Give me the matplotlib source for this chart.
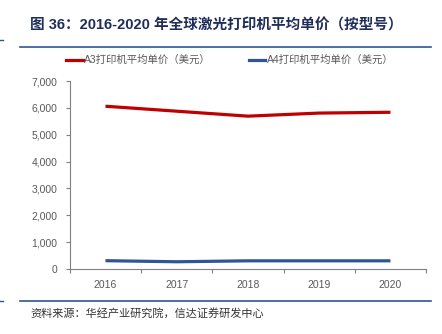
import matplotlib
matplotlib.use("Agg")
import matplotlib.pyplot as plt
from matplotlib.lines import Line2D

plt.rcParams['font.family'] = ['Liberation Sans', 'Noto Sans CJK SC', 'DejaVu Sans']

years = ['2016', '2017', '2018', '2019', '2020']
a3_price = [6065, 5880, 5695, 5810, 5840]
a4_price = [305, 265, 300, 300, 300]
y_ticks = [0, 1000, 2000, 3000, 4000, 5000, 6000, 7000]

title = '图 36：2016-2020 年全球激光打印机平均单价（按型号）'
a3_label = 'A3打印机平均单价（美元）'
a4_label = 'A4打印机平均单价（美元）'
source = '资料来源：华经产业研究院，信达证券研发中心'

fig = plt.figure(figsize=(4.42, 3.34), dpi=100)
ax = fig.add_axes([0.158, 0.195, 0.806, 0.562])

x = list(range(len(years)))
ax.plot(x, a3_price, color='#c00000', lw=2.3, solid_capstyle='butt')
ax.plot(x, a4_price, color='#2f5597', lw=2.3, solid_capstyle='butt')

ax.set_xlim(-0.5, len(years) - 0.5)
ax.set_ylim(0, 7000)
ax.set_yticks(y_ticks)
ax.set_yticklabels([f'{v:,}' for v in y_ticks])
ax.set_xticks([i - 0.5 for i in range(len(years) + 1)])
ax.set_xticklabels([])
ax.set_xticks(x, minor=True)
ax.set_xticklabels(years, minor=True)
ax.tick_params(axis='x', which='minor', length=0, pad=8)
ax.tick_params(axis='x', which='major', length=3, color='#808080')
ax.tick_params(axis='y', length=3, color='#808080', pad=6)
ax.tick_params(labelsize=7.5, labelcolor='#595959')
for lab in ax.get_xticklabels(minor=True):
    lab.set_color('#595959')
    lab.set_fontsize(7.5)

for s in ['top', 'right']:
    ax.spines[s].set_visible(False)
ax.spines['left'].set_color('#808080')
ax.spines['bottom'].set_color('#808080')

# legend
handles = [Line2D([], [], color='#c00000', lw=2.3),
           Line2D([], [], color='#2f5597', lw=2.3)]
leg = fig.legend(handles, [a3_label, a4_label], loc='center', ncol=2,
                 bbox_to_anchor=(0.52, 0.82), frameon=False, fontsize=7.5,
                 handlelength=1.6, handletextpad=0.15, columnspacing=3.6,
                 labelcolor='#595959')

# title and rules
fig.text(0.068, 0.925, title, fontsize=10.5, fontweight='bold', color='#1f2d5a',
         family=['Liberation Sans', 'Noto Sans CJK SC'], va='center')
fig.add_artist(Line2D([0.045, 0.975], [0.859, 0.859], color='#2f5597', lw=1.2))
fig.add_artist(Line2D([0.0, 0.006], [0.88, 0.88], color='#2f5597', lw=1))
fig.add_artist(Line2D([0.045, 0.975], [0.099, 0.099], color='#2f5597', lw=1.2))
fig.add_artist(Line2D([0.0, 0.006], [0.099, 0.099], color='#2f5597', lw=1))
fig.text(0.068, 0.063, source, fontsize=8, color='#333333', style='italic',
         family=['Noto Sans CJK SC'], va='center')

fig.savefig('out.png', dpi=100)
